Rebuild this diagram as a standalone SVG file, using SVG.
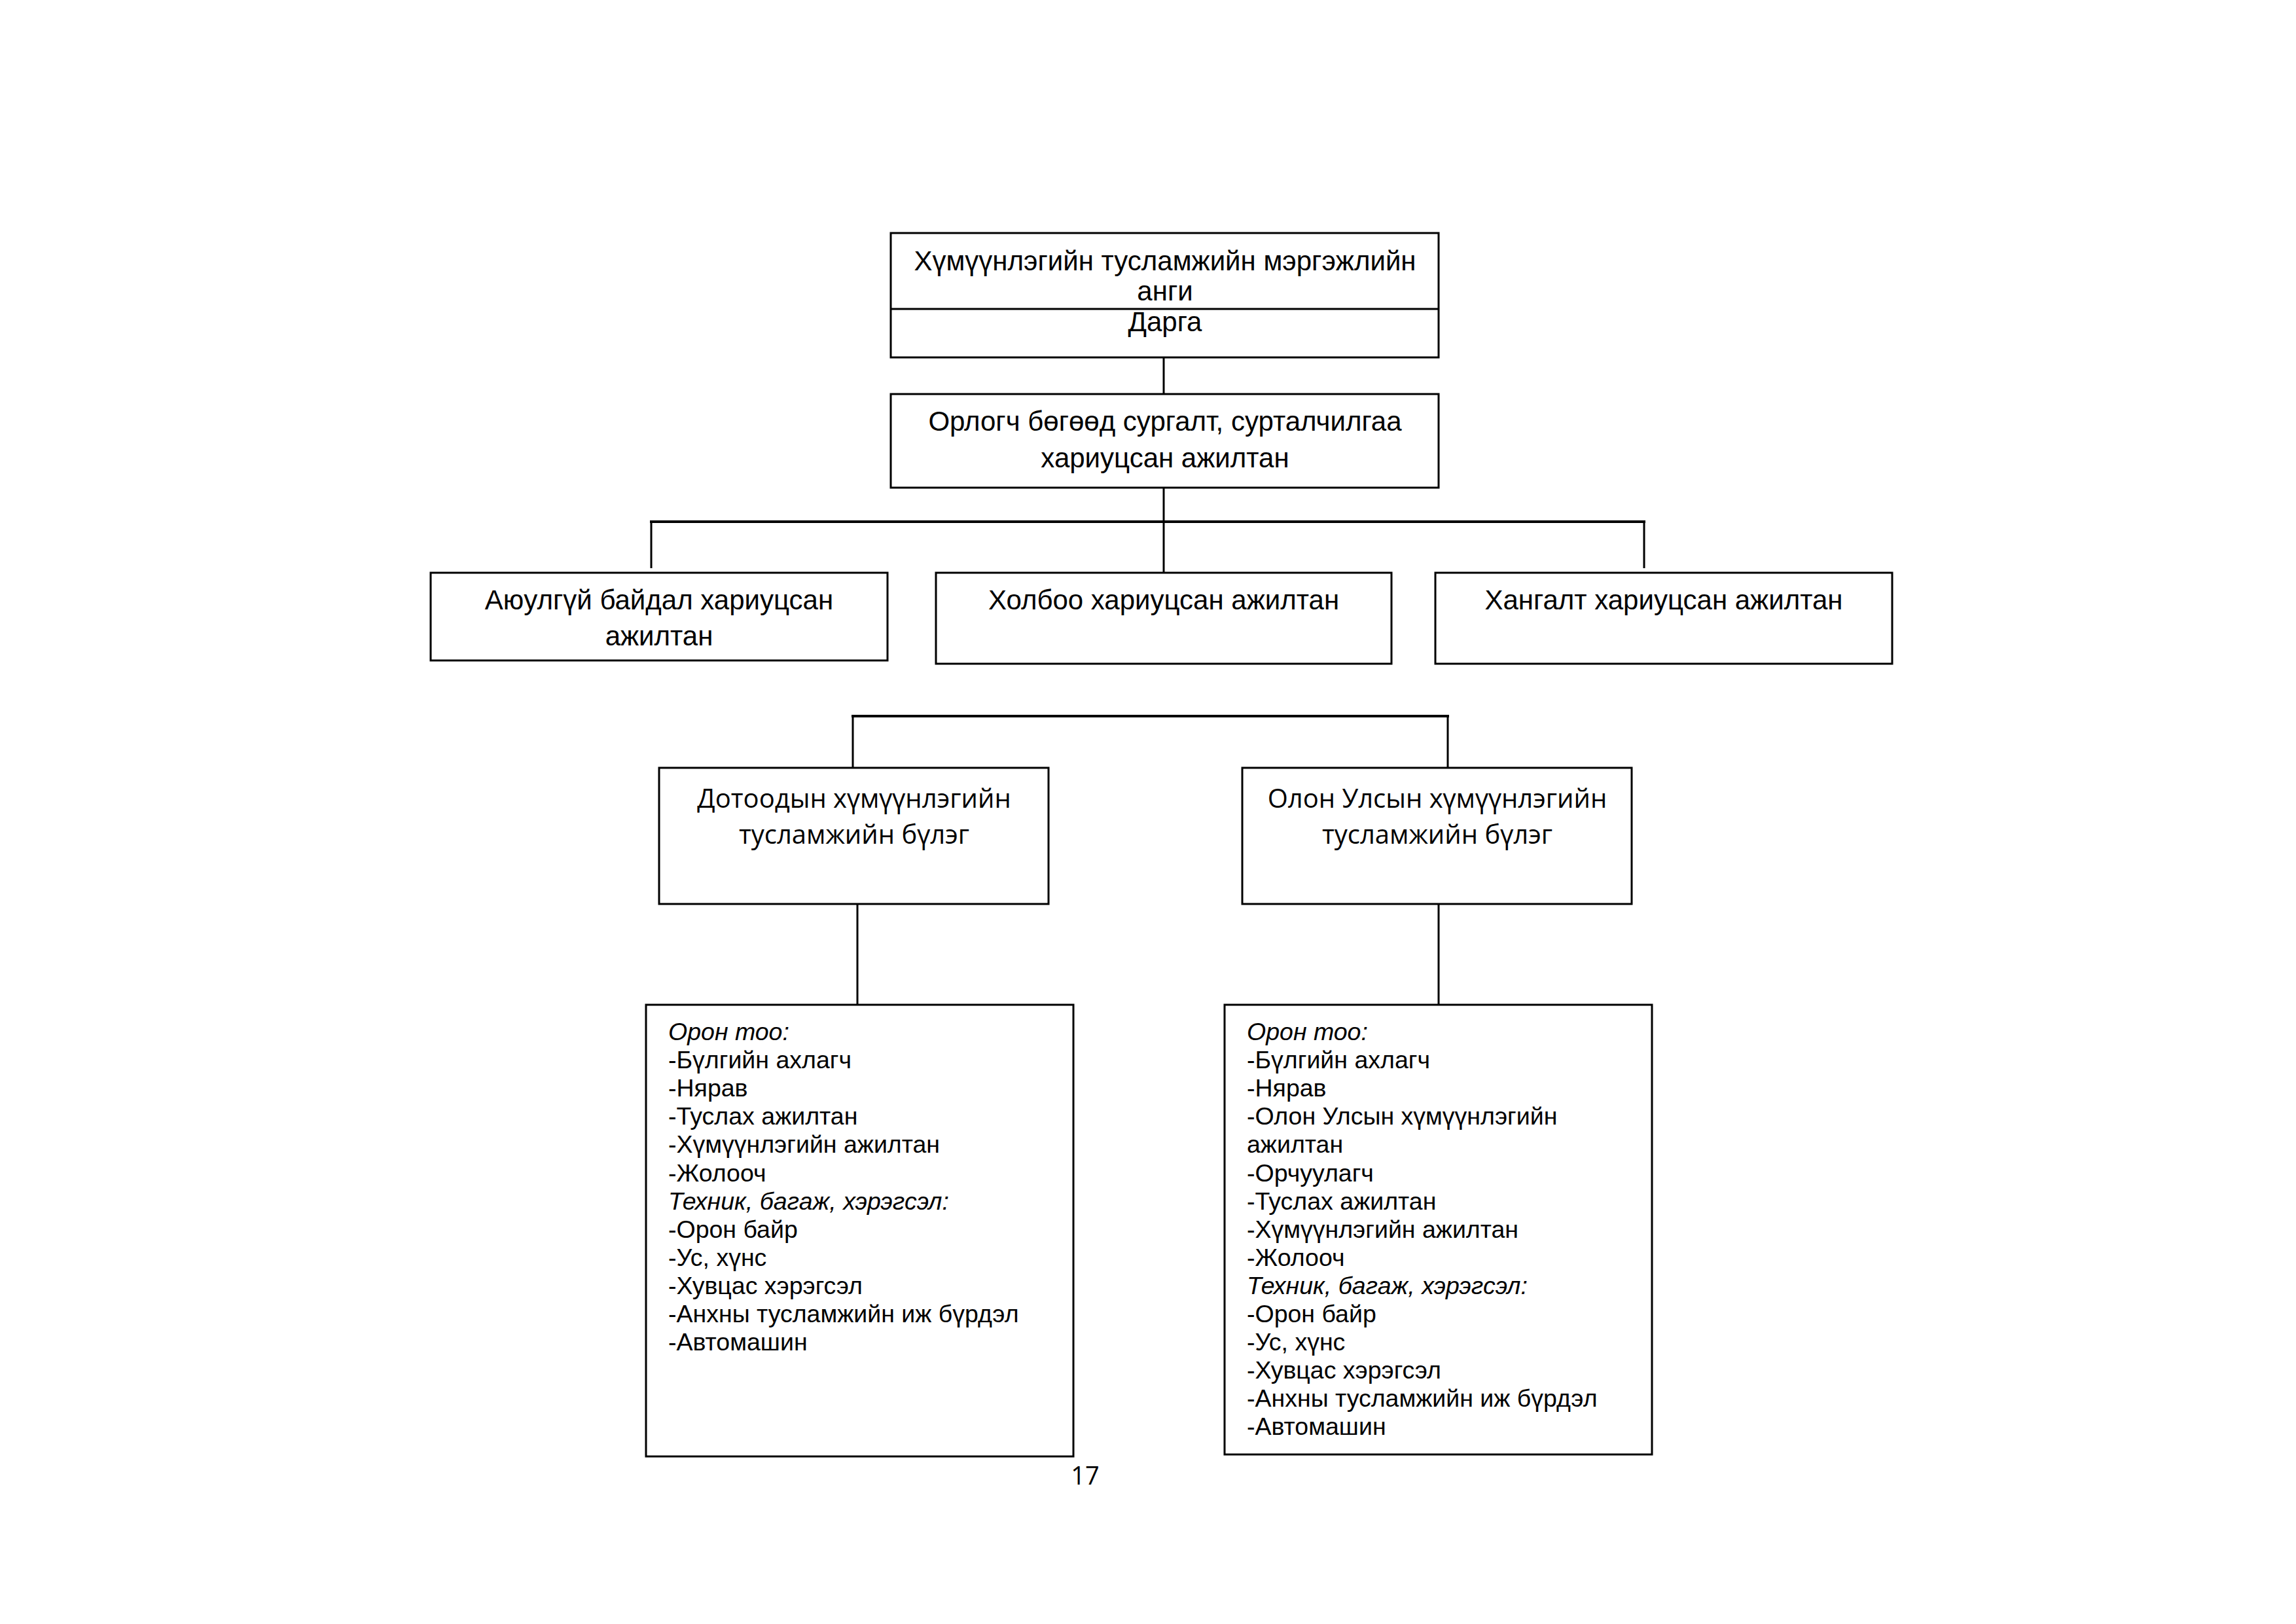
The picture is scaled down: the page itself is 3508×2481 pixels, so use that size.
<svg xmlns="http://www.w3.org/2000/svg" width="3508" height="2481" viewBox="0 0 3508 2481">
<style>
.box{fill:#fff;stroke:#000;stroke-width:3}
.ln{stroke:#000;stroke-width:3;fill:none}
.t{font-family:"Liberation Sans",Arial,sans-serif;font-size:42px;fill:#000;text-anchor:middle}
.c{font-family:"Open Sans","Noto Sans",sans-serif;font-size:40px;fill:#000;text-anchor:middle}
.l{font-family:"Liberation Sans",Arial,sans-serif;font-size:37.5px;fill:#000}
.i{font-style:italic}
</style>
<rect width="3508" height="2481" fill="#fff"/>
<g id="connectors">
<line class="ln" x1="1778" y1="546" x2="1778" y2="602"/>
<line class="ln" x1="1778" y1="745" x2="1778" y2="875"/>
<line class="ln" x1="993" y1="797" x2="2514" y2="797" style="stroke-width:4"/>
<line class="ln" x1="995" y1="797" x2="995" y2="868"/>
<line class="ln" x1="2512" y1="797" x2="2512" y2="868"/>
<line class="ln" x1="1301" y1="1094" x2="2214" y2="1094" style="stroke-width:4"/>
<line class="ln" x1="1303" y1="1094" x2="1303" y2="1173"/>
<line class="ln" x1="2212" y1="1094" x2="2212" y2="1173"/>
<line class="ln" x1="1310" y1="1381" x2="1310" y2="1543"/>
<line class="ln" x1="2198" y1="1381" x2="2198" y2="1535"/>
</g>
<g id="node-head">
<rect class="box" x="1361" y="356" width="837" height="190"/>
<line class="ln" x1="1361" y1="472" x2="2198" y2="472"/>
<text class="t" x="1780" y="413">Хүмүүнлэгийн тусламжийн мэргэжлийн</text>
<text class="t" x="1780" y="459">анги</text>
<text class="t" x="1780" y="506">Дарга</text>
</g>
<g id="node-deputy">
<rect class="box" x="1361" y="602" width="837" height="143"/>
<text class="t" x="1780" y="658">Орлогч бөгөөд сургалт, сурталчилгаа</text>
<text class="t" x="1780" y="714">хариуцсан ажилтан</text>
</g>
<g id="node-safety">
<rect class="box" x="658" y="875" width="698" height="134"/>
<text class="t" x="1007" y="931">Аюулгүй байдал хариуцсан</text>
<text class="t" x="1007" y="986">ажилтан</text>
</g>
<g id="node-comm">
<rect class="box" x="1430" y="875" width="696" height="139"/>
<text class="t" x="1778" y="931">Холбоо хариуцсан ажилтан</text>
</g>
<g id="node-supply">
<rect class="box" x="2193" y="875" width="698" height="139"/>
<text class="t" x="2542" y="931">Хангалт хариуцсан ажилтан</text>
</g>
<g id="node-domestic">
<rect class="box" x="1007" y="1173" width="595" height="208"/>
<text class="c" x="1305" y="1234">Дотоодын хүмүүнлэгийн</text>
<text class="c" x="1305" y="1289">тусламжийн бүлэг</text>
</g>
<g id="node-intl">
<rect class="box" x="1898" y="1173" width="595" height="208"/>
<text class="c" x="2196" y="1234">Олон Улсын хүмүүнлэгийн</text>
<text class="c" x="2196" y="1289">тусламжийн бүлэг</text>
</g>
<g id="node-domestic-list">
<rect class="box" x="987" y="1535" width="653" height="690"/>
<text class="l" x="1021" y="1589">
<tspan class="i" x="1021" y="1589">Орон тоо:</tspan>
<tspan x="1021" dy="43.1">-Бүлгийн ахлагч</tspan>
<tspan x="1021" dy="43.1">-Нярав</tspan>
<tspan x="1021" dy="43.1">-Туслах ажилтан</tspan>
<tspan x="1021" dy="43.1">-Хүмүүнлэгийн ажилтан</tspan>
<tspan x="1021" dy="43.1">-Жолооч</tspan>
<tspan class="i" x="1021" dy="43.1">Техник, багаж, хэрэгсэл:</tspan>
<tspan x="1021" dy="43.1">-Орон байр</tspan>
<tspan x="1021" dy="43.1">-Ус, хүнс</tspan>
<tspan x="1021" dy="43.1">-Хувцас хэрэгсэл</tspan>
<tspan x="1021" dy="43.1">-Анхны тусламжийн иж бүрдэл</tspan>
<tspan x="1021" dy="43.1">-Автомашин</tspan>
</text>
</g>
<g id="node-intl-list">
<rect class="box" x="1871" y="1535" width="653" height="687"/>
<text class="l" x="1905" y="1589">
<tspan class="i" x="1905" y="1589">Орон тоо:</tspan>
<tspan x="1905" dy="43.1">-Бүлгийн ахлагч</tspan>
<tspan x="1905" dy="43.1">-Нярав</tspan>
<tspan x="1905" dy="43.1">-Олон Улсын хүмүүнлэгийн</tspan>
<tspan x="1905" dy="43.1">ажилтан</tspan>
<tspan x="1905" dy="43.1">-Орчуулагч</tspan>
<tspan x="1905" dy="43.1">-Туслах ажилтан</tspan>
<tspan x="1905" dy="43.1">-Хүмүүнлэгийн ажилтан</tspan>
<tspan x="1905" dy="43.1">-Жолооч</tspan>
<tspan class="i" x="1905" dy="43.1">Техник, багаж, хэрэгсэл:</tspan>
<tspan x="1905" dy="43.1">-Орон байр</tspan>
<tspan x="1905" dy="43.1">-Ус, хүнс</tspan>
<tspan x="1905" dy="43.1">-Хувцас хэрэгсэл</tspan>
<tspan x="1905" dy="43.1">-Анхны тусламжийн иж бүрдэл</tspan>
<tspan x="1905" dy="43.1">-Автомашин</tspan>
</text>
</g>
<text class="c" x="1658" y="2268" style="font-size:38px">17</text>
</svg>
